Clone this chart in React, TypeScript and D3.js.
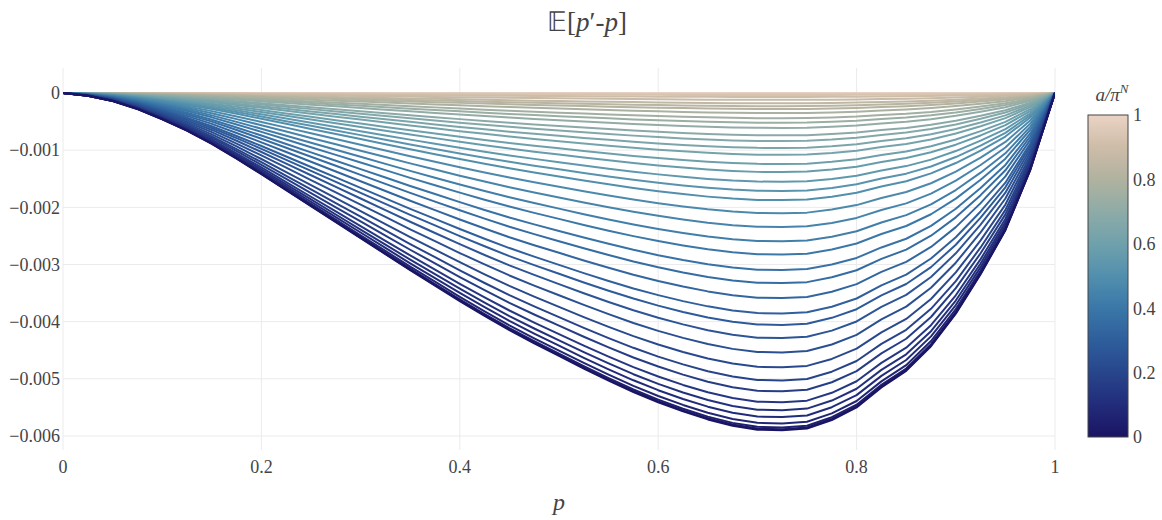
import React from "react";
import * as d3 from "d3";

// p grid (x values)
const pGrid = [
  0, 0.025, 0.05, 0.075, 0.1, 0.125, 0.15, 0.175, 0.2, 0.225, 0.25, 0.275, 0.3, 0.325, 0.35, 0.375, 0.4,
  0.425, 0.45, 0.475, 0.5, 0.525, 0.55, 0.575, 0.6, 0.625, 0.65, 0.675, 0.7, 0.725, 0.75, 0.775, 0.8,
  0.825, 0.85, 0.875, 0.9, 0.925, 0.95, 0.975, 1,
];

// deepest curve (a/π^N = 0)
const deepestCurve = [
  0, -0.00005, -0.00014, -0.00028, -0.00046, -0.00066, -0.00089, -0.00115, -0.00142, -0.0017, -0.00198,
  -0.00226, -0.00254, -0.00282, -0.0031, -0.00337, -0.00364, -0.0039, -0.00415, -0.00438, -0.0046,
  -0.00482, -0.00503, -0.00523, -0.00541, -0.00557, -0.00571, -0.00582, -0.00589, -0.0059, -0.00587,
  -0.00572, -0.0055, -0.00515, -0.00486, -0.00443, -0.00386, -0.00317, -0.0024, -0.00135, 0,
];

// value of each curve at p = 0.7, from darkest (a = 0) to lightest (a = 1)
const curveValuesAtP07 = [
  -0.00589, -0.00587, -0.00584, -0.00577, -0.00566, -0.00554, -0.0054, -0.00521, -0.00502, -0.00479,
  -0.00453, -0.00428, -0.00405, -0.00385, -0.00358, -0.00332, -0.00309, -0.00282, -0.00259, -0.00234,
  -0.0021, -0.00187, -0.00171, -0.00155, -0.00138, -0.00124, -0.00108, -0.00096, -0.00084, -0.00074,
  -0.00061, -0.00052, -0.00044, -0.00035, -0.00028, -0.00023, -0.00018, -0.00012, -0.00007, -0.000035,
  -0.000018, -0.000009, 0,
];

const yTicks = [0, -0.001, -0.002, -0.003, -0.004, -0.005, -0.006];
const xTicks = [0, 0.2, 0.4, 0.6, 0.8, 1];
const cbTicks = [0, 0.2, 0.4, 0.6, 0.8, 1];

const colorStops: [number, string][] = [
  [0, "#1a1464"],
  [0.1, "#222c7a"],
  [0.2, "#28458c"],
  [0.3, "#2e5e9c"],
  [0.4, "#3a77a8"],
  [0.5, "#528fad"],
  [0.6, "#6fa1ac"],
  [0.7, "#8eaba7"],
  [0.8, "#b0b29f"],
  [0.9, "#cdbca8"],
  [1, "#ebd3c4"],
];

const W = 1162;
const H = 520;
const M = { left: 63, right: 1055, top: 68, bottom: 450 };
const FONT = "'Liberation Serif', serif";
const TXT = "#444";

export default function App() {
  const x = d3.scaleLinear().domain([0, 1]).range([M.left, M.right]);
  const y = d3.scaleLinear().domain([-0.006245, 0.000437]).range([M.bottom, M.top]);
  const color = d3
    .scaleLinear<string>()
    .domain(colorStops.map((d) => d[0]))
    .range(colorStops.map((d) => d[1]))
    .interpolate(d3.interpolateRgb);

  const n = curveValuesAtP07.length;
  const ref = deepestCurve[28];
  const curves = curveValuesAtP07.map((v, i) => ({
    a: i / (n - 1),
    pts: pGrid.map((p, j) => [p, (deepestCurve[j] * v) / ref] as [number, number]),
  }));
  const line = d3
    .line<[number, number]>()
    .x((d) => x(d[0]))
    .y((d) => y(d[1]));

  const cb = { x: 1088, w: 40, top: 115, bottom: 437 };
  const cbY = d3.scaleLinear().domain([0, 1]).range([cb.bottom, cb.top]);

  return (
    <svg width={W} height={H} style={{ position: "absolute", left: 0, top: 0, background: "#fff" }}>
      <defs>
        <linearGradient id="cbgrad" x1="0" y1="1" x2="0" y2="0">
          {d3.range(0, 1.0001, 0.05).map((t) => (
            <stop key={t} offset={t} stopColor={color(t)} />
          ))}
        </linearGradient>
        <clipPath id="plotclip">
          <rect x={M.left} y={M.top} width={M.right - M.left} height={M.bottom - M.top} />
        </clipPath>
      </defs>
      {xTicks.map((t) => (
        <line key={"gx" + t} x1={x(t)} x2={x(t)} y1={M.top} y2={M.bottom} stroke="#ebebeb" strokeWidth={1} />
      ))}
      {yTicks.map((t) => (
        <line key={"gy" + t} x1={M.left} x2={M.right} y1={y(t)} y2={y(t)} stroke="#ebebeb" strokeWidth={1} />
      ))}
      <g clipPath="url(#plotclip)">
        {curves
          .slice()
          .reverse()
          .map((c, i) => (
            <path key={i} d={line(c.pts) || ""} fill="none" stroke={color(c.a)} strokeWidth={2} strokeLinejoin="round" />
          ))}
      </g>
      {yTicks.map((t) => (
        <text key={"ty" + t} x={60} y={y(t)} dy="0.35em" textAnchor="end" fontFamily={FONT} fontSize={18} fill={TXT}>
          {t === 0 ? "0" : "\u2212" + d3.format(".3f")(-t)}
        </text>
      ))}
      {xTicks.map((t) => (
        <text key={"tx" + t} x={x(t)} y={473} textAnchor="middle" fontFamily={FONT} fontSize={18} fill={TXT}>
          {t === 0 || t === 1 ? String(t) : d3.format(".1f")(t)}
        </text>
      ))}
      <text x={x(0.5)} y={510} textAnchor="middle" fontFamily={FONT} fontSize={24} fontStyle="italic" fill={TXT}>
        p
      </text>
      <text x={W / 2 + 6} y={31} textAnchor="middle" fontFamily={FONT} fontSize={27} fill={TXT}>
        <tspan>{"\u{1D53C}"}</tspan>
        <tspan>[</tspan>
        <tspan fontStyle="italic">p</tspan>
        <tspan>{"\u2032-"}</tspan>
        <tspan fontStyle="italic">p</tspan>
        <tspan>]</tspan>
      </text>
      <rect x={cb.x} y={cb.top} width={cb.w} height={cb.bottom - cb.top} fill="url(#cbgrad)" stroke="#444" strokeWidth={1} />
      {cbTicks.map((t) => (
        <text key={"cb" + t} x={cb.x + cb.w + 5} y={cbY(t)} dy="0.35em" fontFamily={FONT} fontSize={18} fill={TXT}>
          {t === 0 || t === 1 ? String(t) : d3.format(".1f")(t)}
        </text>
      ))}
      <text x={1112} y={101} textAnchor="middle" fontFamily={FONT} fontSize={19} fontStyle="italic" fill={TXT}>
        <tspan>a/π</tspan>
        <tspan dy={-8} fontSize={13}>N</tspan>
      </text>
    </svg>
  );
}
